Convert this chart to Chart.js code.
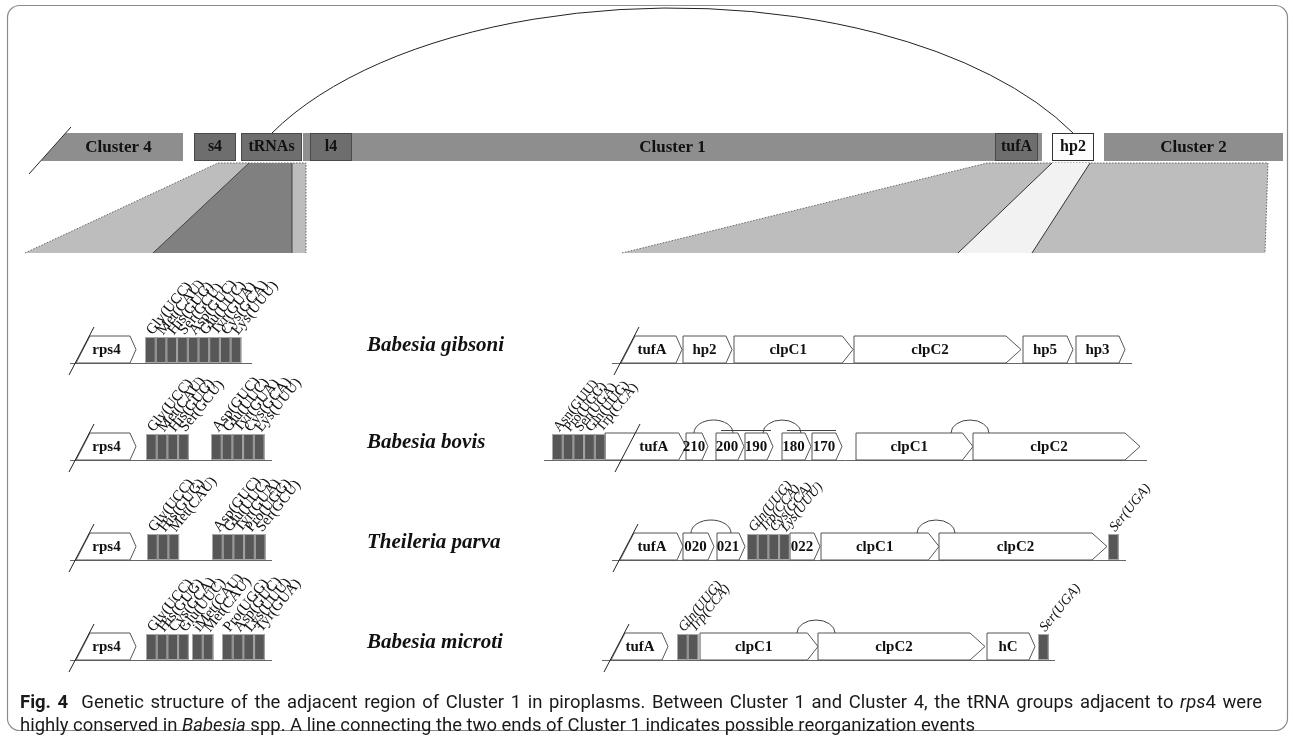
<!DOCTYPE html>
<html>
<head>
<meta charset="utf-8">
<script src="https://cdn.jsdelivr.net/npm/chart.js@4.4.1/dist/chart.umd.min.js"></script>
<style>
  html, body { margin: 0; padding: 0; background: #fff; }
  #wrap { width: 1295px; height: 736px; position: relative; }
</style>
</head>
<body>
<div id="wrap"><canvas id="fig"></canvas></div>
<script>
// ---- data (x = position along the drawn map, y = row baseline) ----
const species = ['Babesia gibsoni', 'Babesia bovis', 'Theileria parva', 'Babesia microti'];
const rowBase = [363, 460, 560, 660];
const geneHeight = 27;

// top overview bar
const topClusters = [['Cluster 4', 41, 183], ['Cluster 1', 303, 1042], ['Cluster 2', 1104, 1283]];
const topGenes = [['s4', 194, 236, 'dark'], ['tRNAs', 241, 302, 'dark'], ['l4', 310, 352, 'dark'],
                  ['tufA', 995, 1038, 'dark'], ['hp2', 1052, 1094, 'white']];
// shaded synteny blocks under the bar: [topLeft, topRight, bottomRight, bottomLeft]
const syntenyLight = [[218, 306, 306, 25], [987, 1268, 1265, 622]];
const syntenyDark = [249, 292, 292, 153];
const syntenyPale = [1052, 1090, 1032, 958];

// left side: rps4 + tRNA groups
const leftRps4 = [76, 136];
const leftLineEnd = [252, 272, 272, 272];
const leftTrna = [
  [[145, ['Gly(UCC)', 'Met(CAU)', 'His(GUG)', 'Ser(GCU)', 'Asp(GUC)', 'Glu(UUC)', 'Tyr(GUA)', 'Cys(GCA)', 'Lys(UUU)']]],
  [[146, ['Gly(UCC)', 'Met(CAU)', 'His(GUG)', 'Ser(GCU)']], [211, ['Asp(GUC)', 'Glu(UUC)', 'Tyr(GUA)', 'Cys(GCA)', 'Lys(UUU)']]],
  [[147, ['Gly(UCC)', 'His(GUG)', 'Met(CAU)']], [212, ['Asp(GUC)', 'Glu(UUC)', 'Tyr(GUA)', 'Pro(UGG)', 'Ser(GCU)']]],
  [[146, ['Gly(UCC)', 'His(GUG)', 'Cys(GCA)', 'Glu(UUC)']], [192, ['iMet(CAU)', 'Met(CAU)']], [222, ['Pro(UGG)', 'Asp(GUC)', 'Lys(UUU)', 'Tyr(GUA)']]]
];
const trnaWidth = 10.7;

// right side: tufA / clpC region
const rightSlash = [621, 622, 620, 611];
const rightLine = [[612, 1132], [544, 1147], [612, 1126], [602, 1055]];
const rightGenes = [
  [['tufA', 621, 682], ['hp2', 683, 732], ['clpC1', 734, 853], ['clpC2', 854, 1021], ['hp5', 1023, 1073], ['hp3', 1076, 1125]],
  [['tufA', 605, 686], ['210', 686, 708], ['200', 716, 744], ['190', 745, 773], ['180', 782, 811], ['170', 812, 842], ['clpC1', 856, 973], ['clpC2', 973, 1140]],
  [['tufA', 620, 683], ['020', 683, 714], ['021', 717, 745], ['022', 790, 820], ['clpC1', 821, 939], ['clpC2', 939, 1107]],
  [['tufA', 611, 668], ['clpC1', 700, 818], ['clpC2', 818, 985], ['hC', 987, 1035]]
];
const rightTrna = [
  [],
  [[552, ['Asn(GUU)', 'Pro(UGG)', 'Ser(UGA)', 'Gln(UUG)', 'Trp(CCA)']]],
  [[747, ['Gln(UUG)', 'Trp(CCA)', 'Cys(GCA)', 'Lys(UUU)']], [1108, ['Ser(UGA)']]],
  [[677, ['Gln(UUG)', 'Trp(CCA)']], [1038, ['Ser(UGA)']]]
];
const rightItalic = [false, false, true, true];
const rightArcs = [[], [[694, 733], [763, 801], [951, 989]], [[691, 731], [917, 955]], [[797, 835]]];
const rightSpans = [[], [[721, 771], [787, 836]], [], []];

// rearrangement arc over the top bar
const bigArc = [272, 1073, 8];

const captionLine1 = [['Fig. 4', 'bold'], ['  Genetic structure of the adjacent region of Cluster 1 in piroplasms. Between Cluster 1 and Cluster 4, the tRNA groups adjacent to ', 'normal'], ['rps', 'italic'], ['4 were', 'normal']];
const captionLine2 = [['highly conserved in ', 'normal'], ['Babesia', 'italic'], [' spp. A line connecting the two ends of Cluster 1 indicates possible reorganization events', 'normal']];

const SERIF = "'Liberation Serif', 'DejaVu Serif', serif";
const SANS = "'Roboto', 'Liberation Sans', sans-serif";

const diagram = {
  id: 'diagram',
  afterDraw(chart) {
    const ctx = chart.ctx;
    const X = v => chart.scales.x.getPixelForValue(v);
    const Y = v => chart.scales.y.getPixelForValue(v);
    const slantDx = 14;

    const slash = (x, base) => {
      ctx.beginPath();
      ctx.moveTo(X(x - 7), Y(base + 12));
      ctx.lineTo(X(x + 18), Y(base - 36));
      ctx.strokeStyle = '#222';
      ctx.lineWidth = 1;
      ctx.stroke();
    };

    const arrow = (name, x0, x1, base, slant, labelFrom) => {
      const top = Y(base - geneHeight), bot = Y(base);
      const a = X(x0), b = X(x1);
      const tip = Math.max(6, Math.min(15, (b - a) * 0.09));
      ctx.beginPath();
      ctx.moveTo(a, bot);
      ctx.lineTo(slant ? a + slantDx : a, top);
      ctx.lineTo(b - tip, top);
      ctx.lineTo(b, (top + bot) / 2);
      ctx.lineTo(b - tip, bot);
      ctx.closePath();
      ctx.fillStyle = '#fff';
      ctx.fill();
      ctx.strokeStyle = '#555';
      ctx.lineWidth = 1;
      ctx.stroke();
      const l = labelFrom !== undefined ? X(labelFrom) : (slant ? a + slantDx / 2 : a);
      ctx.fillStyle = '#111';
      ctx.font = 'bold 15px ' + SERIF;
      ctx.textAlign = 'center';
      ctx.textBaseline = 'middle';
      ctx.fillText(name, (l + b - tip) / 2, (top + bot) / 2 + 1);
    };

    const trnaGroup = (x0, names, base, italic, size) => {
      const top = Y(base - geneHeight + 1), bot = Y(base);
      names.forEach((n, i) => {
        const a = X(x0 + i * trnaWidth), b = X(x0 + (i + 1) * trnaWidth);
        ctx.fillStyle = '#575757';
        ctx.fillRect(a, top, b - a, bot - top);
        ctx.strokeStyle = '#a8a8a8';
        ctx.lineWidth = 1;
        ctx.strokeRect(a + 0.5, top + 0.5, b - a - 1, bot - top - 1);
        ctx.save();
        ctx.translate((a + b) / 2 - 1, top - 4);
        ctx.rotate(-51 * Math.PI / 180);
        ctx.fillStyle = '#111';
        ctx.font = (italic ? 'italic ' : '') + size + 'px ' + SERIF;
        ctx.textAlign = 'left';
        ctx.textBaseline = 'middle';
        ctx.fillText(n, 0, 0);
        ctx.restore();
      });
    };

    const line = (x0, x1, y, color) => {
      ctx.beginPath();
      ctx.moveTo(X(x0), Y(y) + 0.5);
      ctx.lineTo(X(x1), Y(y) + 0.5);
      ctx.strokeStyle = color || '#666';
      ctx.lineWidth = 1;
      ctx.stroke();
    };

    ctx.save();

    // frame
    ctx.beginPath();
    ctx.roundRect(7.5, 5.5, 1280, 725, 12);
    ctx.strokeStyle = '#8c8c8c';
    ctx.lineWidth = 1.2;
    ctx.stroke();

    // big arc
    {
      const [xa, xb, apex] = bigArc;
      const s = 125 / 275;
      const t = Math.asin(s);
      const cx = X((xa + xb) / 2);
      const ry = (Y(133) - Y(apex)) / (1 - s);
      const rx = (X(xb) - X(xa)) / 2 / Math.cos(t);
      ctx.beginPath();
      ctx.ellipse(cx, Y(apex) + ry, rx, ry, 0, Math.PI + t, 2 * Math.PI - t);
      ctx.strokeStyle = '#222';
      ctx.lineWidth = 1;
      ctx.stroke();
    }

    // synteny blocks
    const barTop = 133, barBot = 161, synTop = 163, synBot = 253;
    const quad = (q, fill) => {
      ctx.beginPath();
      ctx.moveTo(X(q[0]), Y(synTop));
      ctx.lineTo(X(q[1]), Y(synTop));
      ctx.lineTo(X(q[2]), Y(synBot));
      ctx.lineTo(X(q[3]), Y(synBot));
      ctx.closePath();
      ctx.fillStyle = fill;
      ctx.fill();
    };
    syntenyLight.forEach(q => {
      quad(q, '#bdbdbd');
      ctx.beginPath();
      ctx.moveTo(X(q[3]), Y(synBot));
      ctx.lineTo(X(q[0]), Y(synTop));
      ctx.lineTo(X(q[1]), Y(synTop));
      ctx.lineTo(X(q[2]), Y(synBot));
      ctx.setLineDash([1.5, 1.5]);
      ctx.strokeStyle = '#666';
      ctx.lineWidth = 1;
      ctx.stroke();
      ctx.setLineDash([]);
    });
    quad(syntenyDark, '#808080');
    ctx.beginPath();
    ctx.moveTo(X(syntenyDark[3]), Y(synBot));
    ctx.lineTo(X(syntenyDark[0]), Y(synTop));
    ctx.moveTo(X(syntenyDark[1]), Y(synTop));
    ctx.lineTo(X(syntenyDark[2]), Y(synBot));
    ctx.strokeStyle = '#444';
    ctx.stroke();
    quad(syntenyPale, '#f2f2f2');
    ctx.beginPath();
    ctx.moveTo(X(syntenyPale[3]), Y(synBot));
    ctx.lineTo(X(syntenyPale[0]), Y(synTop));
    ctx.moveTo(X(syntenyPale[1]), Y(synTop));
    ctx.lineTo(X(syntenyPale[2]), Y(synBot));
    ctx.strokeStyle = '#333';
    ctx.stroke();

    // top bar
    topClusters.forEach(([name, x0, x1], i) => {
      ctx.beginPath();
      if (i === 0) {
        ctx.moveTo(X(x0), Y(barBot));
        ctx.lineTo(X(x0 + 25), Y(barTop));
      } else {
        ctx.moveTo(X(x0), Y(barBot));
        ctx.lineTo(X(x0), Y(barTop));
      }
      ctx.lineTo(X(x1), Y(barTop));
      ctx.lineTo(X(x1), Y(barBot));
      ctx.closePath();
      ctx.fillStyle = '#8e8e8e';
      ctx.fill();
    });
    // slash through Cluster 4
    ctx.beginPath();
    ctx.moveTo(X(41 - 12), Y(barBot + 13));
    ctx.lineTo(X(41 + 25 + 5), Y(barTop - 6));
    ctx.strokeStyle = '#222';
    ctx.lineWidth = 1;
    ctx.stroke();

    topGenes.forEach(([name, x0, x1, kind]) => {
      ctx.fillStyle = kind === 'dark' ? '#6e6e6e' : '#fdfdfd';
      ctx.fillRect(X(x0), Y(barTop), X(x1) - X(x0), Y(barBot) - Y(barTop));
      ctx.strokeStyle = kind === 'dark' ? '#4a4a4a' : '#333';
      ctx.lineWidth = 1;
      ctx.strokeRect(X(x0) + 0.5, Y(barTop) + 0.5, X(x1) - X(x0) - 1, Y(barBot) - Y(barTop) - 1);
    });

    ctx.fillStyle = '#111';
    ctx.textAlign = 'center';
    ctx.textBaseline = 'middle';
    ctx.font = 'bold 17px ' + SERIF;
    topClusters.forEach(([name, x0, x1], i) => {
      const l = i === 0 ? x0 + 13 : x0;
      ctx.fillText(name, (X(l) + X(x1)) / 2, (Y(barTop) + Y(barBot)) / 2 + 1);
    });
    ctx.font = 'bold 16px ' + SERIF;
    topGenes.forEach(([name, x0, x1]) => {
      ctx.fillText(name, (X(x0) + X(x1)) / 2, (Y(barTop) + Y(barBot)) / 2);
    });

    // species rows
    species.forEach((sp, r) => {
      const base = rowBase[r];

      // left part
      line(leftRps4[0] - 6, leftLineEnd[r], base);
      arrow('rps4', leftRps4[0], leftRps4[1], base, true);
      slash(leftRps4[0], base);
      leftTrna[r].forEach(([x0, names]) => trnaGroup(x0, names, base, false, 15));

      // species name
      ctx.fillStyle = '#111';
      ctx.font = 'bold italic 21px ' + SERIF;
      ctx.textAlign = 'left';
      ctx.textBaseline = 'middle';
      ctx.fillText(sp, X(367), Y(base - 17));

      // right part
      line(rightLine[r][0], rightLine[r][1], base);
      rightGenes[r].forEach(([name, x0, x1]) => {
        const slant = x0 === rightSlash[r];
        const inside = !slant && rightSlash[r] > x0 && rightSlash[r] < x1;
        arrow(name, x0, x1, base, slant, inside ? rightSlash[r] + slantDx / 2 : undefined);
      });
      slash(rightSlash[r], base);
      rightTrna[r].forEach(([x0, names]) => trnaGroup(x0, names, base, rightItalic[r], 14));

      // overlap arcs and spans
      const top = base - geneHeight;
      rightArcs[r].forEach(([a, b]) => {
        const rx = (X(b) - X(a)) / 2;
        ctx.beginPath();
        ctx.ellipse((X(a) + X(b)) / 2, Y(top), rx, Math.min(rx, 13), 0, Math.PI, 2 * Math.PI);
        ctx.strokeStyle = '#444';
        ctx.lineWidth = 1;
        ctx.stroke();
      });
      rightSpans[r].forEach(([a, b]) => line(a, b, top - 3, '#444'));
    });

    // caption: slightly condensed sans, first line justified to the full width
    const capFont = (style) => (style === 'bold' ? 'bold ' : style === 'italic' ? 'italic ' : '') + '17.5px ' + SANS;
    const measure = segs => segs.reduce((w, [t, s]) => { ctx.font = capFont(s); return w + ctx.measureText(t).width; }, 0);
    const k = (975 - 20) / measure(captionLine2);
    const drawCap = (segs, y, justifyTo) => {
      const natural = measure(segs);
      let spaces = 0;
      segs.forEach(([t]) => { spaces += (t.match(/ /g) || []).length; });
      const extra = justifyTo ? (justifyTo / k - natural) / spaces : 0;
      ctx.save();
      ctx.translate(X(20), Y(y));
      ctx.scale(k, 1);
      let x = 0;
      ctx.textAlign = 'left';
      ctx.textBaseline = 'middle';
      ctx.fillStyle = '#1a1a1a';
      segs.forEach(([t, s]) => {
        ctx.font = capFont(s);
        const parts = t.split(' ');
        parts.forEach((p, i) => {
          if (p) { ctx.fillText(p, x, 0); x += ctx.measureText(p).width; }
          if (i < parts.length - 1) x += ctx.measureText(' ').width + extra;
        });
      });
      ctx.restore();
    };
    drawCap(captionLine1, 704, 1262 - 20);
    drawCap(captionLine2, 727);

    ctx.restore();
  }
};

new Chart(document.getElementById('fig'), {
  type: 'scatter',
  data: { datasets: [{ data: [], pointRadius: 0 }] },
  options: {
    responsive: true,
    maintainAspectRatio: false,
    animation: false,
    layout: { padding: 0 },
    plugins: { legend: { display: false }, tooltip: { enabled: false } },
    scales: {
      x: { type: 'linear', min: 0, max: 1295, display: false },
      y: { type: 'linear', min: 0, max: 736, reverse: true, display: false }
    }
  },
  plugins: [diagram]
});
</script>
</body>
</html>
